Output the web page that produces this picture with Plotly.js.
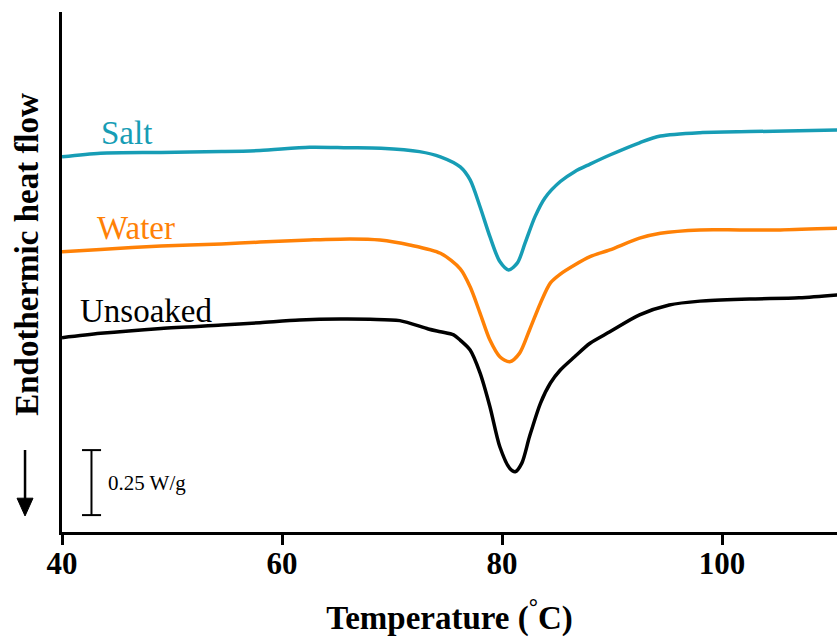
<!DOCTYPE html>
<html>
<head>
<meta charset="utf-8">
<script src="https://cdn.plot.ly/plotly-3.0.1.min.js"></script>
<style>html,body{margin:0;padding:0;background:#fff;}#chart{width:837px;height:637px;}</style>
</head>
<body>
<div id="chart"></div>
<script>
// Temperature (°C) and heat flow (W/g, arbitrary offset)
const tempSalt = [40, 43.5, 49, 54.5, 58, 62.5, 66, 69, 72.5, 74.4, 76.2, 77.1, 78, 78.9, 79.8, 80.6, 81.4, 82.1, 83, 83.9, 85.3, 86.6, 88, 89.8, 92.5, 94.4, 98, 102.5, 107, 110.5];
const flowSalt = [1.443, 1.457, 1.460, 1.463, 1.467, 1.480, 1.478, 1.476, 1.463, 1.443, 1.404, 1.354, 1.251, 1.136, 1.040, 1.008, 1.035, 1.112, 1.213, 1.285, 1.348, 1.386, 1.415, 1.450, 1.497, 1.523, 1.536, 1.540, 1.543, 1.546];

const tempWater = [40, 43.5, 49, 54.5, 58, 62.5, 66.2, 68.9, 71.6, 74.4, 76.2, 77.1, 78, 78.9, 79.8, 80.7, 81.6, 82.5, 83.5, 84.4, 85.3, 86.6, 88, 89.8, 92.5, 94.4, 98, 101.6, 105.3, 110.5];
const flowWater = [1.078, 1.087, 1.100, 1.108, 1.115, 1.123, 1.127, 1.123, 1.104, 1.072, 1.012, 0.943, 0.842, 0.738, 0.674, 0.655, 0.688, 0.777, 0.881, 0.958, 0.992, 1.027, 1.059, 1.085, 1.130, 1.149, 1.162, 1.162, 1.162, 1.168];

const tempUnsoaked = [40, 43.5, 49, 54.5, 58, 61.6, 65.3, 68, 70.7, 73.3, 74.4, 75.6, 76.2, 77.1, 78, 78.9, 79.8, 80.7, 81.2, 81.8, 82.5, 83.5, 84.4, 85.3, 86.6, 88, 89.8, 92.5, 95.2, 98, 102.5, 107, 110.5];
const flowUnsoaked = [0.747, 0.764, 0.783, 0.796, 0.805, 0.815, 0.819, 0.818, 0.813, 0.781, 0.770, 0.758, 0.738, 0.700, 0.612, 0.482, 0.328, 0.245, 0.232, 0.265, 0.367, 0.496, 0.573, 0.623, 0.674, 0.726, 0.770, 0.835, 0.873, 0.888, 0.896, 0.901, 0.912];

const seriesNames = ["Salt", "Water", "Unsoaked"];
const seriesColors = ["#179db5", "#ff8106", "#000000"];
const xTickVals = [40, 60, 80, 100];
const scaleBarValue = 0.25; // W/g

const serif = "Liberation Serif, Times New Roman, Times, serif";

const temps = [tempSalt, tempWater, tempUnsoaked];
const flows = [flowSalt, flowWater, flowUnsoaked];

const traces = seriesNames.map((n, i) => ({
  x: temps[i], y: flows[i], name: n, type: "scatter", mode: "lines",
  line: {color: seriesColors[i], width: 3.5, shape: "spline", smoothing: 0.8},
  hoverinfo: "x+y+name"
}));

// series labels
const labelPos = [[43.36, 1.533], [43.0, 1.171], [41.45, 0.849]];
const annotations = seriesNames.map((n, i) => ({
  x: labelPos[i][0], y: labelPos[i][1], xref: "x", yref: "y",
  text: n, showarrow: false, xanchor: "left", yanchor: "middle",
  font: {family: serif, size: 33, color: seriesColors[i]}
}));

// scale bar label
annotations.push({
  x: 44.0, y: 0.065 + scaleBarValue / 2, xref: "x", yref: "y",
  text: scaleBarValue + " W/g", showarrow: false, xanchor: "left", yanchor: "middle",
  font: {family: serif, size: 21, color: "#000"}
});

// y-axis title
annotations.push({
  x: -0.0452, y: 0.535, xref: "paper", yref: "paper",
  text: "Endothermic heat flow", textangle: -90, showarrow: false,
  xanchor: "center", yanchor: "middle",
  font: {family: serif, size: 33, color: "#000", weight: "bold"}
});

const barX = 42.68, barY0 = 0.065;
const shapes = [
  // scale bar
  {type: "line", xref: "x", yref: "y", x0: barX, x1: barX, y0: barY0, y1: barY0 + scaleBarValue, line: {color: "#000", width: 2}},
  {type: "line", xref: "x", yref: "y", x0: 41.82, x1: 43.55, y0: barY0, y1: barY0, line: {color: "#000", width: 2}},
  {type: "line", xref: "x", yref: "y", x0: 41.82, x1: 43.55, y0: barY0 + scaleBarValue, y1: barY0 + scaleBarValue, line: {color: "#000", width: 2}},
  // arrow (endothermic direction)
  {type: "line", xref: "paper", yref: "paper", x0: -0.0477, x1: -0.0477, y0: 0.1577, y1: 0.06, line: {color: "#000", width: 2.5}},
  {type: "path", xref: "paper", yref: "paper", path: "M -0.0580,0.0650 L -0.0374,0.0650 L -0.0477,0.0308 Z", fillcolor: "#000", line: {color: "#000", width: 1}}
];

const layout = {
  width: 837, height: 637,
  margin: {l: 62, r: 0, t: 12, b: 105},
  paper_bgcolor: "#fff", plot_bgcolor: "#fff",
  showlegend: false,
  font: {family: serif, color: "#000"},
  xaxis: {
    range: [40, 110.45], tickvals: xTickVals, ticktext: xTickVals.map(String),
    showline: true, linewidth: 3, linecolor: "#000", mirror: false,
    ticks: "outside", ticklen: 10, tickwidth: 3, tickcolor: "#000",
    ticklabelstandoff: -8,
    showgrid: false, zeroline: false,
    tickfont: {family: serif, size: 31, color: "#000", weight: "bold"},
    title: {text: "Temperature (<sup>°</sup>C)", font: {family: serif, size: 33, color: "#000", weight: "bold"}, standoff: 28}
  },
  yaxis: {
    range: [0, 2.0], showline: true, linewidth: 3, linecolor: "#000",
    showticklabels: false, ticks: "", showgrid: false, zeroline: false
  },
  annotations: annotations,
  shapes: shapes
};

Plotly.newPlot("chart", traces, layout, {displayModeBar: false, staticPlot: true});
</script>
</body>
</html>
